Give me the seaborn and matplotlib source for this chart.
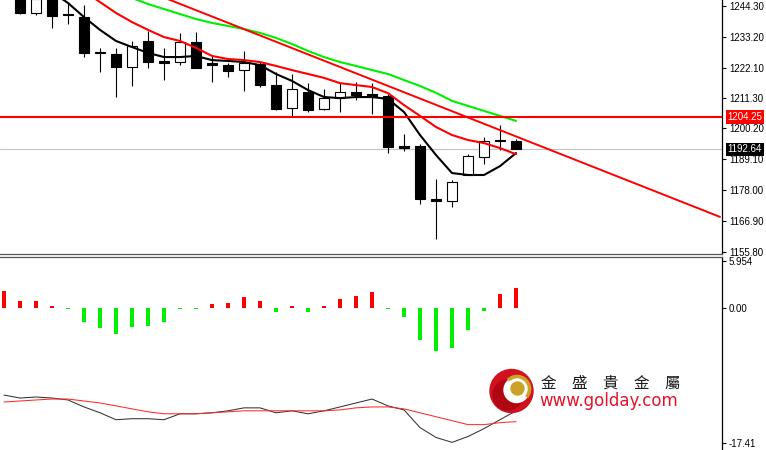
"""Gold daily candles with moving averages, trend line and oscillator panel."""

import matplotlib

matplotlib.use("Agg")
import matplotlib.pyplot as plt
import matplotlib.transforms as mtransforms
from matplotlib.patches import Arc, Circle
import numpy as np
import seaborn as sns


OUTPUT = "out.png"

# candles, oldest first (index 0 lies above the visible window)
opens = [1249.5, 1247.2, 1241.8, 1246.8, 1241.3, 1240.3, 1227.6, 1227.0, 1222.3,
         1231.7, 1224.3, 1224.1, 1231.3, 1223.6, 1223.0, 1221.2, 1223.4, 1215.8,
         1207.5, 1213.3, 1207.2, 1211.1, 1213.3, 1212.6, 1211.9, 1193.7, 1193.9,
         1174.6, 1174.0, 1183.4, 1189.9, 1195.9, 1195.7]
highs = [1252.0, 1248.3, 1248.5, 1248.0, 1245.4, 1244.7, 1229.2, 1229.2, 1231.7,
         1235.3, 1229.2, 1234.6, 1234.9, 1226.3, 1223.8, 1228.1, 1224.1, 1220.5,
         1219.8, 1216.5, 1214.5, 1216.5, 1216.9, 1216.5, 1212.6, 1198.2, 1194.6,
         1182.0, 1181.6, 1191.0, 1197.1, 1201.4, 1196.4]
lows = [1247.2, 1241.4, 1241.1, 1236.4, 1237.8, 1225.9, 1220.5, 1211.5, 1215.5,
        1222.0, 1217.6, 1223.0, 1221.8, 1216.9, 1218.7, 1213.7, 1215.1, 1206.8,
        1204.3, 1206.1, 1206.8, 1206.1, 1210.4, 1205.4, 1191.3, 1192.0, 1172.9,
        1160.3, 1171.9, 1183.4, 1187.4, 1192.4, 1192.6]
closes = [1248.3, 1241.8, 1246.9, 1240.7, 1240.9, 1227.4, 1227.2, 1222.3, 1229.9,
          1224.1, 1223.9, 1231.3, 1222.0, 1223.2, 1220.9, 1223.8, 1215.8, 1207.2,
          1214.4, 1206.8, 1211.1, 1213.3, 1212.2, 1211.5, 1193.5, 1193.3, 1174.8,
          1174.2, 1180.9, 1190.2, 1195.7, 1195.5, 1192.64]

# moving averages, each starting at its own candle index
FAST_START = 3
ma_fast = [1249.3, 1245.4, 1240.3, 1235.7, 1231.7, 1229.5, 1227.4, 1225.9, 1225.9,
           1226.3, 1224.8, 1224.5, 1224.1, 1223.0, 1219.8, 1217.3, 1214.0, 1211.5,
           1211.1, 1211.5, 1211.5, 1210.8, 1206.1, 1197.8, 1190.6, 1184.1, 1183.4,
           1183.4, 1186.6, 1191.3]
MID_START = 5
ma_mid = [1249.7, 1245.7, 1241.8, 1238.5, 1235.7, 1233.1, 1231.7, 1229.2, 1226.3,
          1225.2, 1224.8, 1224.1, 1222.7, 1221.2, 1219.8, 1218.4, 1216.5, 1215.8,
          1215.1, 1212.9, 1208.6, 1204.7, 1200.7, 1197.8, 1196.0, 1194.9, 1193.1,
          1190.9]
SLOW_START = 7
ma_slow = [1249.3, 1247.2, 1245.0, 1243.2, 1241.4, 1239.6, 1238.2, 1237.1, 1236.0,
           1234.6, 1232.8, 1230.6, 1228.1, 1225.9, 1224.1, 1222.7, 1221.2, 1219.8,
           1217.6, 1215.5, 1213.0, 1210.1, 1208.3, 1206.5, 1204.7, 1202.9]

trend_x = [10.06, 44.75]
trend_y = [1247.2, 1168.3]
resistance = 1204.25
last_price = 1192.64

price_ticks = [1244.30, 1233.20, 1222.10, 1211.30, 1200.20, 1189.10, 1178.00,
               1166.90, 1155.80]

# oscillator panel
histogram = [2.15, 0.9, 0.9, 0.25, -0.18, -1.8, -2.65, -3.4, -2.5, -2.3, -1.8, -0.18,
             -0.18, 0.4, 0.6, 1.3, 0.85, -0.55, 0.18, -0.55, 0.18, 1.05, 1.45, 1.95,
             -0.18, -1.2, -4.2, -5.6, -5.15, -2.85, -0.45, 1.7, 2.5]
osc_main = [-11.21, -11.59, -11.46, -11.59, -11.84, -12.73, -13.48, -14.37, -14.24,
            -14.24, -14.37, -13.61, -13.61, -13.48, -13.23, -12.85, -12.85, -13.48,
            -13.23, -13.61, -13.23, -12.73, -12.22, -11.72, -12.60, -13.11, -15.38,
            -16.64, -17.27, -16.52, -15.51, -14.37, -13.23]
osc_signal = [-12.10, -11.97, -11.84, -11.72, -11.72, -11.97, -12.22, -12.60, -12.98,
              -13.36, -13.61, -13.61, -13.61, -13.48, -13.36, -13.23, -13.23, -13.23,
              -13.23, -13.23, -13.23, -13.11, -12.85, -12.73, -12.73, -12.98, -13.48,
              -13.99, -14.49, -15.00, -15.00, -14.75, -14.62]
osc_ticks = [5.954, 0.0, -17.41]
osc_labels = ["5.954", "0.00", "-17.41"]

RED = "#ff0000"
GREEN = "#00ee00"


def style_axis(ax, bottom_color=None, top_color=None):
    for side in ("left", "top", "bottom"):
        ax.spines[side].set_visible(False)
    ax.spines["right"].set_color("black")
    ax.spines["right"].set_linewidth(0.9)
    if bottom_color:
        ax.spines["bottom"].set_visible(True)
        ax.spines["bottom"].set_color(bottom_color)
        ax.spines["bottom"].set_linewidth(0.9)
    if top_color:
        ax.spines["top"].set_visible(True)
        ax.spines["top"].set_color(top_color)
        ax.spines["top"].set_linewidth(0.9)
    ax.set_xticks([])
    ax.set_xlabel("")
    ax.set_ylabel("")
    ax.tick_params(axis="y", left=False, right=True, labelleft=False, labelright=True,
                   direction="out", length=3, width=0.8, pad=2, labelsize=7,
                   colors="black")
    ax.set_facecolor("white")


def draw_price(ax):
    idx = np.arange(len(opens))
    o = np.array(opens)
    c = np.array(closes)
    bottoms = np.minimum(o, c)
    heights = np.maximum(np.abs(c - o), 0.6)
    fills = ["black" if cl < op else "white" for op, cl in zip(opens, closes)]

    ax.axhline(last_price, color="#c4c4c4", linewidth=0.8, zorder=1)
    ax.vlines(idx, lows, highs, color="black", linewidth=0.8, zorder=2)
    ax.bar(idx, heights, bottom=bottoms, width=0.68, color=fills,
           edgecolor="black", linewidth=0.8, zorder=2)

    sns.lineplot(x=idx[FAST_START:], y=ma_fast, ax=ax, color="black",
                 linewidth=1.5, zorder=3)
    sns.lineplot(x=idx[MID_START:], y=ma_mid, ax=ax, color=RED,
                 linewidth=1.5, zorder=3)
    sns.lineplot(x=idx[SLOW_START:], y=ma_slow, ax=ax, color=GREEN,
                 linewidth=1.5, zorder=3)
    sns.lineplot(x=trend_x, y=trend_y, ax=ax, color=RED, linewidth=1.4, zorder=3)
    ax.axhline(resistance, color=RED, linewidth=1.5, zorder=3)

    ax.set_xlim(-0.25, 44.875)
    ax.set_ylim(1154.93, 1246.46)
    ax.set_yticks(price_ticks)
    ax.set_yticklabels([f"{t:.2f}" for t in price_ticks])

    trans = mtransforms.blended_transform_factory(ax.transAxes, ax.transData)
    for value, face in ((resistance, RED), (last_price, "black")):
        ax.text(1.0075, value, f"{value:.2f}", transform=trans, ha="left",
                va="center", fontsize=7, color="white", clip_on=False,
                bbox=dict(boxstyle="square,pad=0.18", facecolor=face,
                          edgecolor="none"))


def draw_oscillator(ax):
    idx = np.arange(len(histogram))
    colors = [RED if v > 0 else GREEN for v in histogram]
    ax.bar(idx, histogram, width=0.2, color=colors, linewidth=0, zorder=2)
    sns.lineplot(x=idx, y=osc_main, ax=ax, color="#333333", linewidth=0.75, zorder=3)
    sns.lineplot(x=idx, y=osc_signal, ax=ax, color="#ff2a2a", linewidth=0.75, zorder=3)
    ax.set_xlim(-0.25, 44.875)
    ax.set_ylim(-18.25, 6.48)
    ax.set_yticks(osc_ticks)
    ax.set_yticklabels(osc_labels)


def draw_logo(fig):
    over = fig.add_axes([0, 0, 1, 1], zorder=10)
    over.set_xlim(0, 766)
    over.set_ylim(450, 0)
    over.axis("off")
    over.patch.set_alpha(0)
    over.add_patch(Circle((511.5, 391), 21.5, color="#d2101e"))
    over.add_patch(Circle((508, 395), 15, color="#b00812"))
    over.add_patch(Circle((516.5, 390), 12.5, color="white"))
    over.add_patch(Arc((517, 389), 25, 25, theta1=-135, theta2=40,
                       color="#c9a227", linewidth=2.6))
    over.add_patch(Circle((517.5, 388.5), 6.5, color="#c9a227"))
    over.text(611, 383, "金\u3000盛\u3000貴\u3000金\u3000屬", ha="center", va="center",
              fontsize=11.2, color="#1a1a1a",
              family=["Noto Sans CJK TC", "DejaVu Sans"])
    over.text(539, 406, "www.golday.com", ha="left", va="baseline", fontsize=12,
              color="#e5122a", family=["DejaVu Sans"])


def main() -> None:
    sns.set_theme(style="white")
    plt.rcParams["font.family"] = ["Liberation Sans", "DejaVu Sans"]

    fig = plt.figure(figsize=(7.66, 4.5), dpi=100)
    fig.patch.set_facecolor("white")
    price_ax = fig.add_axes([0, 196 / 450, 722 / 766, 254 / 450])
    osc_ax = fig.add_axes([0, 0, 722 / 766, 193 / 450])

    draw_price(price_ax)
    style_axis(price_ax, bottom_color="#555555")
    draw_oscillator(osc_ax)
    style_axis(osc_ax, top_color="#555555")
    draw_logo(fig)

    fig.savefig(OUTPUT, dpi=100)
    plt.close(fig)


if __name__ == "__main__":
    main()
